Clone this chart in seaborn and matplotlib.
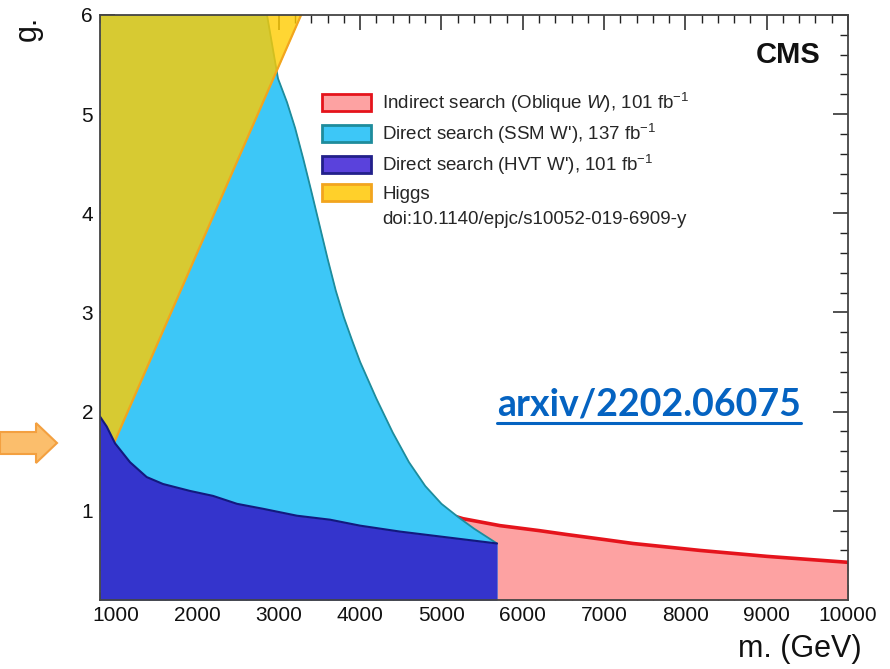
import numpy as np
import pandas as pd
import matplotlib
matplotlib.use("Agg")
import matplotlib.pyplot as plt
import seaborn as sns
from matplotlib.patches import Patch, FancyArrow
from matplotlib.lines import Line2D
from matplotlib.ticker import MultipleLocator, FixedLocator
import matplotlib.transforms as mtransforms

# ---------------- data ----------------
# Indirect search (Oblique W), 101 fb-1  -- upper boundary
red_mass = [5142, 5265, 5720, 6200, 6544, 7000, 7356, 8180, 9004, 10000]
red_g = [0.95, 0.92, 0.85, 0.80, 0.76, 0.71, 0.67, 0.60, 0.54, 0.48]

# Direct search (SSM W'), 137 fb-1 -- upper boundary
ssm_mass = [800, 2854, 2989, 3100, 3200, 3300, 3400, 3500, 3600, 3700,
            3800, 3900, 4000, 4200, 4400, 4600, 4800, 5000, 5200, 5400, 5683]
ssm_g = [6.0, 6.0, 5.36, 5.12, 4.86, 4.55, 4.22, 3.88, 3.54, 3.22,
         2.95, 2.72, 2.50, 2.13, 1.79, 1.49, 1.25, 1.07, 0.94, 0.82, 0.67]

# Direct search (HVT W'), 101 fb-1 -- upper boundary
hvt_mass = [800, 882, 985, 1169, 1374, 1575, 1907, 2190, 2485, 2805,
            3223, 3629, 3998, 4490, 5683]
hvt_g = [1.95, 1.85, 1.68, 1.49, 1.34, 1.27, 1.20, 1.15, 1.07, 1.02,
         0.95, 0.91, 0.85, 0.79, 0.67]

# Higgs constraint -- lower boundary of excluded region (left/above)
higgs_mass = [800, 3300]
higgs_g = [1.36, 6.05]

x_ticks = [1000, 2000, 3000, 4000, 5000, 6000, 7000, 8000, 9000, 10000]
x_ticklabels = ["1000", "2000", "3000", "4000", "5000", "6000", "7000",
                "8000", "9000", "10000"]
y_ticks = [1, 2, 3, 4, 5, 6]
y_ticklabels = ["1", "2", "3", "4", "5", "6"]

legend_labels = [
    r"Indirect search (Oblique $W$), 101 fb$^{-1}$",
    r"Direct search (SSM W'), 137 fb$^{-1}$",
    r"Direct search (HVT W'), 101 fb$^{-1}$",
    "Higgs",
    "doi:10.1140/epjc/s10052-019-6909-y",
]

XMIN, XMAX = 800, 10000
YMIN, YMAX = 0.1, 6.0

# ---------------- style ----------------
sns.set_theme(style="ticks")
plt.rcParams["font.family"] = ["Liberation Sans", "DejaVu Sans"]
plt.rcParams["mathtext.fontset"] = "custom"
plt.rcParams["mathtext.rm"] = "Liberation Sans"
plt.rcParams["mathtext.it"] = "Liberation Sans:italic"
plt.rcParams["mathtext.bf"] = "Liberation Sans:bold"

C_RED_FILL, C_RED_EDGE = "#fda2a2", "#e5141c"
C_SSM_FILL, C_SSM_EDGE = "#3dc7f7", "#1e8c9c"
C_HVT_FILL, C_HVT_EDGE = "#3434cc", "#12197e"
C_HIG_FILL, C_HIG_EDGE = "#ffcc00", "#f2a51e"

fig = plt.figure(figsize=(8.9, 6.69), dpi=100)
fig.patch.set_facecolor("white")
ax = fig.add_axes([100 / 890, 69 / 669, 748 / 890, 585 / 669])
ax.set_facecolor("white")

# red indirect
ax.fill_between(red_mass, YMIN, red_g, color=C_RED_FILL, lw=0, zorder=1)
sns.lineplot(x=red_mass, y=red_g, color=C_RED_EDGE, lw=2.6, ax=ax,
             estimator=None, sort=False, zorder=2)
# SSM
ax.fill_between(ssm_mass, YMIN, ssm_g, color=C_SSM_FILL, lw=0, zorder=3)
sns.lineplot(x=ssm_mass, y=ssm_g, color=C_SSM_EDGE, lw=1.3, ax=ax,
             estimator=None, sort=False, zorder=4)
# Higgs
ax.fill_between(higgs_mass, higgs_g, 7.0, color=C_HIG_FILL, alpha=0.8,
                lw=0, zorder=5)
sns.lineplot(x=higgs_mass, y=higgs_g, color=C_HIG_EDGE, lw=1.6, ax=ax,
             estimator=None, sort=False, zorder=6)
# HVT
ax.fill_between(hvt_mass, YMIN, hvt_g, color=C_HVT_FILL, lw=0, zorder=7)
sns.lineplot(x=hvt_mass, y=hvt_g, color=C_HVT_EDGE, lw=1.5, ax=ax,
             estimator=None, sort=False, zorder=8)

ax.set_xlim(XMIN, XMAX)
ax.set_ylim(YMIN, YMAX)
ax.set_xlabel("")
ax.set_ylabel("")

ax.xaxis.set_major_locator(FixedLocator(x_ticks))
ax.set_xticklabels(x_ticklabels)
ax.xaxis.set_minor_locator(MultipleLocator(200))
ax.yaxis.set_major_locator(FixedLocator(y_ticks))
ax.set_yticklabels(y_ticklabels)
ax.yaxis.set_minor_locator(MultipleLocator(0.2))

ax.tick_params(which="both", direction="in", top=True, right=True,
               colors="#222222", labelcolor="#111111", labelsize=15,
               zorder=20)
ax.tick_params(which="major", length=11, width=1.1)
ax.tick_params(which="minor", length=5.5, width=1.0)
ax.tick_params(axis="x", pad=4)
ax.tick_params(axis="y", pad=5)
for s in ax.spines.values():
    s.set_visible(True)
    s.set_color("#444444")
    s.set_linewidth(1.3)
    s.set_zorder(20)

# legend
handles = [
    Patch(facecolor=C_RED_FILL, edgecolor=C_RED_EDGE, lw=2),
    Patch(facecolor=C_SSM_FILL, edgecolor=C_SSM_EDGE, lw=2),
    Patch(facecolor="#5a42dc", edgecolor="#22208a", lw=2),
    Patch(facecolor="#ffd02a", edgecolor=C_HIG_EDGE, lw=2),
    Patch(facecolor="none", edgecolor="none"),
]
ax.legend(handles, legend_labels, loc="upper left",
          bbox_to_anchor=(322 / 890, 1 - 91 / 669),
          bbox_transform=fig.transFigure, frameon=False, fontsize=13.5,
          handlelength=2.6, handleheight=1.05, labelspacing=0.36,
          handletextpad=0.6, borderaxespad=0, borderpad=0)

# labels
fig.text(788 / 890, 1 - 55 / 669, "CMS", fontsize=21, fontweight="bold",
         ha="center", va="center", color="#111111")
fig.text(28 / 890, 1 - 16 / 669, "g.", fontsize=22, rotation=90,
         ha="center", va="top", color="#111111")
fig.text(862 / 890, 1 - 649 / 669, "m. (GeV)", fontsize=22,
         ha="right", va="center", color="#111111")

# link annotation
link = fig.text(497 / 890, 1 - 416 / 669, "arxiv/2202.06075",
                fontsize=27, fontweight="bold", family=["Lato", "DejaVu Sans"],
                color="#0563c1", ha="left", va="baseline")
fig.canvas.draw()
bb = link.get_window_extent(renderer=fig.canvas.get_renderer())
inv = fig.transFigure.inverted()
(x0, y0), (x1, y1) = inv.transform([(bb.x0, bb.y0), (bb.x1, bb.y0)])
fig.add_artist(Line2D([x0, x1], [y0 - 1 / 669, y0 - 1 / 669],
                      transform=fig.transFigure, color="#0563c1", lw=2.2))

# orange arrow on the left
arrow = FancyArrow(0, 669 - 443, 57, 0, width=22, head_width=40,
                   head_length=21, length_includes_head=True,
                   facecolor="#fbbe6c", edgecolor="#f3a040", lw=1.5,
                   transform=mtransforms.IdentityTransform())
fig.add_artist(arrow)

fig.savefig("out.png", dpi=100, facecolor="white")
